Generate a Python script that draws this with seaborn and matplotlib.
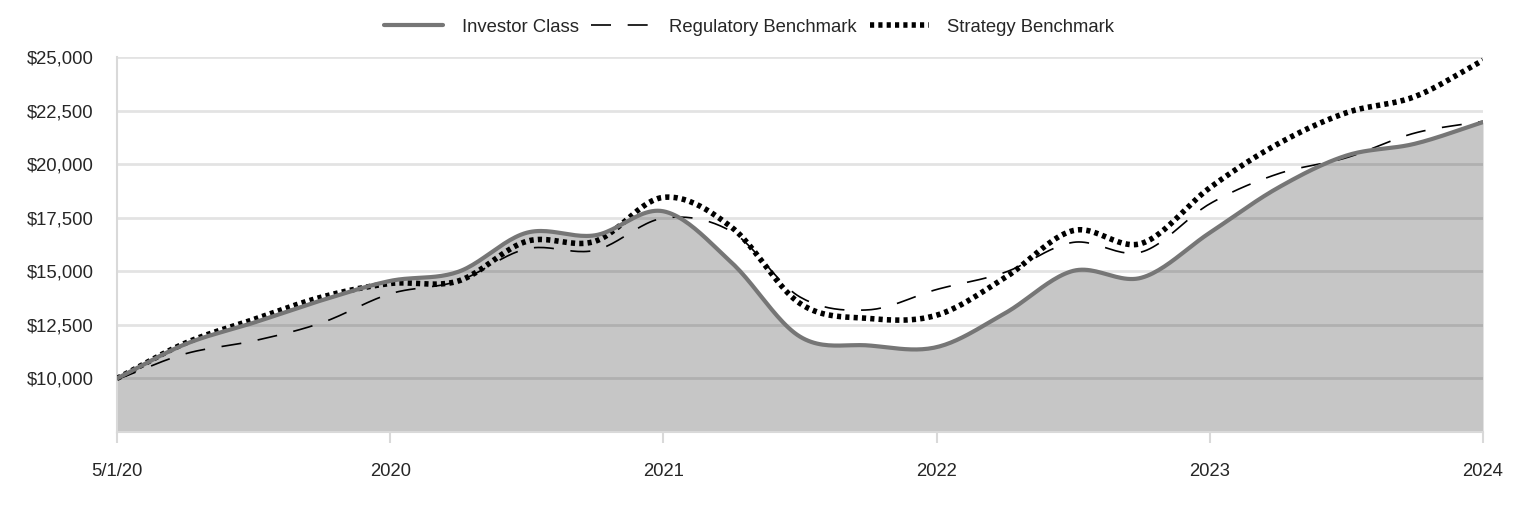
import numpy as np
import pandas as pd
import matplotlib
matplotlib.use("Agg")
import matplotlib.pyplot as plt
import seaborn as sns
from matplotlib.ticker import FuncFormatter

# quarterly points, first one is the 5/1/20 start
TICK_LABELS = ["5/1/20", "2020", "2021", "2022", "2023", "2024"]
investor = [10000, 11600, 12600, 13650, 14550, 14980, 16800, 16680, 17800, 15400,
            11950, 11540, 11460, 13040, 15020, 14700, 16800, 18900, 20400, 20950, 21960]
regulatory = [9950, 11150, 11750, 12600, 13950, 14550, 16050, 15980, 17480, 16850,
              13800, 13200, 14150, 14950, 16350, 15900, 18150, 19550, 20300, 21450, 22000]
strategy = [10000, 11650, 12750, 13800, 14430, 14550, 16400, 16400, 18450, 17050,
            13500, 12800, 12950, 14700, 16900, 16300, 18900, 20950, 22400, 23150, 24850]


def smooth(values, steps=24):
    """Catmull-Rom curve through the points, like a smoothed spreadsheet line."""
    p = np.asarray(values, dtype=float)
    pts = np.concatenate([[2 * p[0] - p[1]], p, [2 * p[-1] - p[-2]]])
    xs, ys = [], []
    for i in range(len(p) - 1):
        p0, p1, p2, p3 = pts[i:i + 4]
        t = np.linspace(0, 1, steps, endpoint=False)
        y = 0.5 * (2 * p1 + (-p0 + p2) * t + (2 * p0 - 5 * p1 + 4 * p2 - p3) * t ** 2
                   + (-p0 + 3 * p1 - 3 * p2 + p3) * t ** 3)
        xs.append(i + t)
        ys.append(y)
    xs.append([len(p) - 1])
    ys.append([p[-1]])
    return np.concatenate(xs), np.concatenate(ys)


sns.set_style("white")
plt.rcParams["font.family"] = ["Liberation Sans", "DejaVu Sans"]
FS = 13.3

fig = plt.figure(figsize=(15.24, 5.16), dpi=100)
ax = fig.add_axes([117 / 1524, 1 - 432 / 516, 1366 / 1524, 375 / 516])

xi, yi = smooth(investor)
xr, yr = smooth(regulatory)
xs, ys = smooth(strategy)

ax.fill_between(xi, yi, 7500, color="#c6c6c6", zorder=1, linewidth=0)
for y in range(10000, 25001, 2500):
    ax.axhline(y, color="black", alpha=0.11, linewidth=2, zorder=2)

sns.lineplot(x=xi, y=yi, ax=ax, color="#767676", linewidth=3, label="Investor Class", zorder=4)
sns.lineplot(x=xr, y=yr, ax=ax, color="black", linewidth=1.2, label="Regulatory Benchmark",
             zorder=3)
sns.lineplot(x=xs, y=ys, ax=ax, color="black", linewidth=4, label="Strategy Benchmark",
             zorder=3)
ax.lines[-2].set_dashes([12, 10])
ax.lines[-1].set_dashes([0.75, 0.75])

ax.set_xlim(0, 20)
ax.set_ylim(7500, 25000)
ax.set_xticks(range(0, 21, 4))
ax.set_xticklabels(TICK_LABELS)
ax.set_yticks(range(10000, 25001, 2500))
ax.yaxis.set_major_formatter(FuncFormatter(lambda v, _: f"${v:,.0f}"))
ax.tick_params(axis="x", length=8, width=1.5, color="#d9d9d9", pad=14, labelsize=FS,
               bottom=True)
ax.tick_params(axis="y", length=0, pad=17, labelsize=FS)

for side in ["top", "right"]:
    ax.spines[side].set_visible(False)
for side in ["left", "bottom"]:
    ax.spines[side].set_color("#d9d9d9")
    ax.spines[side].set_linewidth(1.5)
ax.set_xlabel("")
ax.set_ylabel("")

leg = ax.legend(loc="center", bbox_to_anchor=(0.4627, 1.08), ncol=3, frameon=False,
                fontsize=FS, handlelength=3.2, columnspacing=0.7, handletextpad=1.0)

fig.savefig("out.png", dpi=100)
